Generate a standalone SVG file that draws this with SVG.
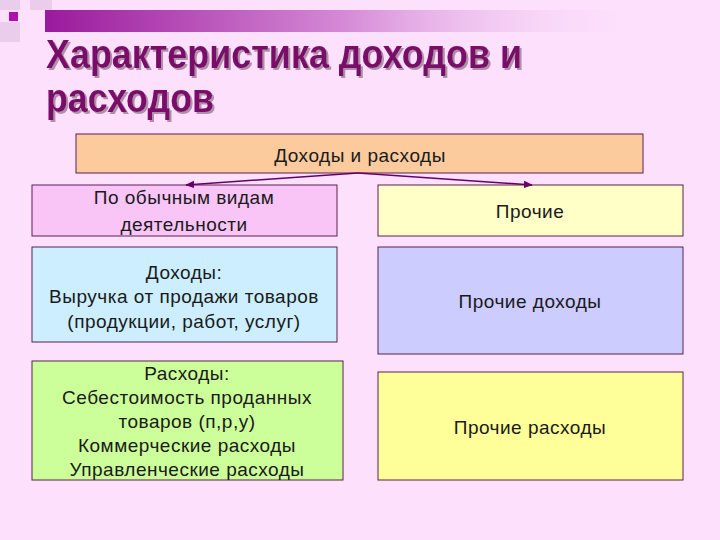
<svg xmlns="http://www.w3.org/2000/svg" width="720" height="540" viewBox="0 0 720 540">
<defs>
<linearGradient id="bar" x1="0" x2="1" y1="0" y2="0">
<stop offset="0" stop-color="#9a1a9c"/>
<stop offset="0.5" stop-color="#d58ad6"/>
<stop offset="1" stop-color="#fce0fc" stop-opacity="0"/>
</linearGradient>
<filter id="sh" x="-5%" y="-20%" width="110%" height="140%">
<feDropShadow dx="2" dy="2" stdDeviation="0.5" flood-color="#b090a8"/>
</filter>
<marker id="ah" viewBox="0 0 10 10" refX="9" refY="5" markerWidth="6" markerHeight="6" orient="auto">
<path d="M0,1 L10,5 L0,9 z" fill="#660066"/>
</marker>
</defs>
<style>
.box{stroke:#5a2050;stroke-width:1}
.t{font-family:"Liberation Sans",Arial,sans-serif;font-size:19px;fill:#1a1a1a;text-anchor:middle;letter-spacing:0.5px}
.title{font-family:"Liberation Sans",Arial,sans-serif;font-size:40px;font-weight:bold;fill:#7a0a6a}
</style>
<rect width="720" height="540" fill="#fce0fc"/>
<rect x="45" y="10" width="600" height="22" fill="url(#bar)"/>
<rect x="0" y="0" width="20" height="10" fill="#eacdea"/>
<rect x="30" y="0" width="22" height="10" fill="#eacdea"/>
<rect x="0" y="22" width="20" height="20" fill="#eacdea"/>
<rect x="9" y="12" width="9" height="9" fill="#b010b0"/>
<g id="title" filter="url(#sh)">
<text class="title" x="46" y="68" textLength="476" lengthAdjust="spacingAndGlyphs">Характеристика доходов и</text>
<text class="title" x="46" y="112" textLength="168" lengthAdjust="spacingAndGlyphs">расходов</text>
</g>
<g id="top"><rect class="box" x="76" y="134" width="567" height="39" fill="#fbcb9e"/><text class="t" x="360" y="162">Доходы и расходы</text></g>
<g id="left1"><rect class="box" x="32" y="185" width="305" height="51" fill="#f9c5f7"/><text class="t" x="184" y="204">По обычным видам</text><text class="t" x="184" y="231">деятельности</text></g>
<g id="right1"><rect class="box" x="378" y="185" width="305" height="51" fill="#ffffc8"/><text class="t" x="530" y="218">Прочие</text></g>
<g id="left2"><rect class="box" x="32" y="247" width="305" height="95" fill="#cceeff"/><text class="t" x="184" y="279">Доходы:</text><text class="t" x="184" y="303">Выручка от продажи товаров</text><text class="t" x="184" y="328">(продукции, работ, услуг)</text></g>
<g id="right2"><rect class="box" x="378" y="247" width="305" height="107" fill="#ccccff"/><text class="t" x="530" y="308">Прочие доходы</text></g>
<g id="left3"><rect class="box" x="32" y="361" width="311" height="119" fill="#ccff99"/><text class="t" x="187" y="380">Расходы:</text><text class="t" x="187" y="404">Себестоимость проданных</text><text class="t" x="187" y="428">товаров (п,р,у)</text><text class="t" x="187" y="452">Коммерческие расходы</text><text class="t" x="187" y="476">Управленческие расходы</text></g>
<g id="right3"><rect class="box" x="378" y="372" width="305" height="108" fill="#ffff99"/><text class="t" x="530" y="434">Прочие расходы</text></g>
<g id="connectors" stroke="#660066" stroke-width="1.5" fill="none">
<line x1="358" y1="173" x2="186" y2="185" marker-end="url(#ah)"/>
<line x1="358" y1="173" x2="532" y2="185" marker-end="url(#ah)"/>
</g>
</svg>
